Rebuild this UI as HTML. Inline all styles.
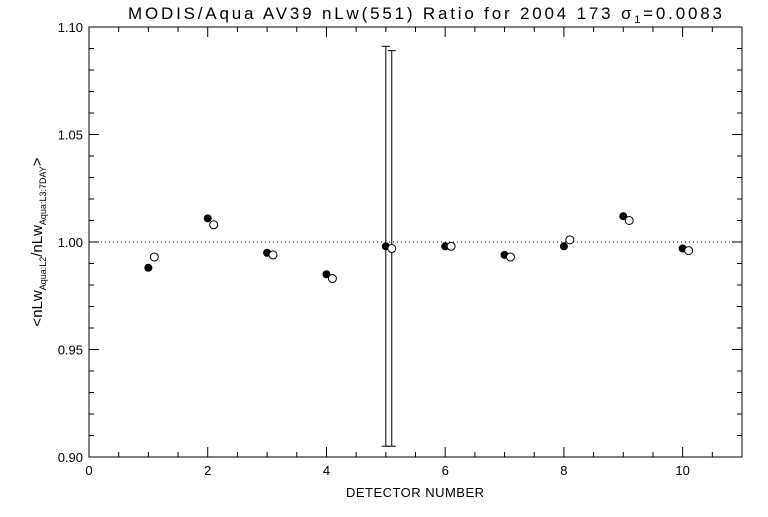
<!DOCTYPE html>
<html><head><meta charset="utf-8"><style>
body{margin:0;background:#fff;}
svg text{font-family:"Liberation Sans",sans-serif;fill:#000;}
</style></head><body>
<svg id="chart" width="768" height="512" xmlns="http://www.w3.org/2000/svg">
<rect width="768" height="512" fill="#fff"/>
<text x="128" y="19" font-size="17" textLength="594" lengthAdjust="spacing">MODIS/Aqua AV39 nLw(551) Ratio for 2004 173 σ<tspan font-size="11" dy="4">1</tspan><tspan dy="-4">=0.0083</tspan></text>
<text x="415" y="497" font-size="13" text-anchor="middle" textLength="138">DETECTOR NUMBER</text>
<text transform="translate(42,242) rotate(-90)" font-size="15" text-anchor="middle">&lt;nLw<tspan font-size="9" dy="4">Aqua:L2</tspan><tspan dy="-4">/nLw</tspan><tspan font-size="9" dy="4">Aqua:L3:7DAY</tspan><tspan dy="-4">&gt;</tspan></text>
<g id="axes"></g>
<g id="marks"></g>
</svg>
<script>
const detectors=[1,2,3,4,5,6,7,8,9,10];
const filledVals=[0.988,1.011,0.995,0.985,0.998,0.998,0.994,0.998,1.012,0.997];
const openVals=[0.993,1.008,0.994,0.983,0.997,0.998,0.993,1.001,1.010,0.996];
const errDetector=[5];
const errFilledLow=[0.905],errFilledHigh=[1.091];
const errOpenLow=[0.905],errOpenHigh=[1.089];
const xTicks=[0,2,4,6,8,10];
const yTicks=[0.90,0.95,1.00,1.05,1.10];
const X0=89,X1=742,Y0=457,Y1=27,XMIN=0,XMAX=11,YMIN=0.90,YMAX=1.10;
const sx=v=>X0+(v-XMIN)/(XMAX-XMIN)*(X1-X0);
const sy=v=>Y0-(v-YMIN)/(YMAX-YMIN)*(Y0-Y1);
const NS="http://www.w3.org/2000/svg";
function mk(p,tag,attrs){const e=document.createElementNS(NS,tag);for(const k in attrs)e.setAttribute(k,attrs[k]);p.appendChild(e);return e;}
const ax=document.getElementById('axes'),mg=document.getElementById('marks');
let fr=mk(ax,'rect',{x:X0,y:Y1,width:X1-X0,height:Y0-Y1,fill:'none',stroke:'#000','stroke-width':1});


for(let v=0;v<=11.001;v+=0.5){const x=sx(v);const major=Math.abs(v%2)<1e-6;const L=major?10:5;
 mk(ax,'line',{x1:x,y1:Y0,x2:x,y2:Y0-L,stroke:'#000'});mk(ax,'line',{x1:x,y1:Y1,x2:x,y2:Y1+L,stroke:'#000'});}
for(let i=0;i<=20;i++){const v=0.90+i*0.01;const y=sy(v);const L=(i%5===0)?10:5;
 mk(ax,'line',{x1:X0,y1:y,x2:X0+L,y2:y,stroke:'#000'});mk(ax,'line',{x1:X1,y1:y,x2:X1-L,y2:y,stroke:'#000'});}
xTicks.forEach(v=>{const t=mk(ax,'text',{x:sx(v),y:Y0+18,'font-size':13,'text-anchor':'middle'});t.textContent=v;
 
 });
yTicks.forEach(v=>{const t=mk(ax,'text',{x:X0-6,y:sy(v)+5,'font-size':13,'text-anchor':'end'});t.textContent=v.toFixed(2);
 
 });
const ref=mk(ax,'line',{x1:X0,y1:sy(1),x2:X1,y2:sy(1),stroke:'#000','stroke-dasharray':'1,3'});


errDetector.forEach((d,i)=>{
 [[d,errFilledLow[i],errFilledHigh[i]],[d+0.1,errOpenLow[i],errOpenHigh[i]]].forEach(([xv,lo,hi])=>{
  const x=sx(xv);const g=mk(mg,'g',{stroke:'#000','stroke-width':1});
  
  
  mk(g,'line',{x1:x,y1:sy(lo),x2:x,y2:sy(hi)});
  mk(g,'line',{x1:x-4,y1:sy(lo),x2:x+4,y2:sy(lo)});
  mk(g,'line',{x1:x-4,y1:sy(hi),x2:x+4,y2:sy(hi)});
 });});
detectors.forEach((d,i)=>{
 const c=mk(mg,'circle',{cx:sx(d),cy:sy(filledVals[i]),r:4,fill:'#000'});
 
 
 const o=mk(mg,'circle',{cx:sx(d+0.1),cy:sy(openVals[i]),r:4,fill:'#fff',stroke:'#000'});
 
 
});
</script>
</body></html>
